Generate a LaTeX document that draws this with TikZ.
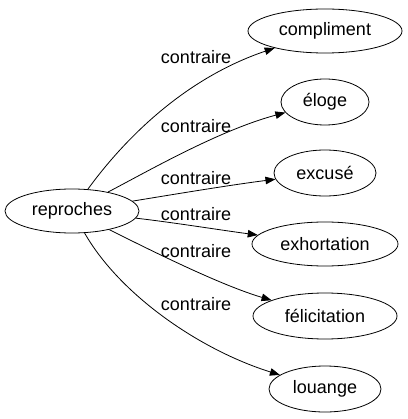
\documentclass[tikz,border=0pt]{standalone}
\usepackage{fontspec}
\setmainfont{Liberation Sans}
\usetikzlibrary{shapes.geometric,arrows.meta}
\begin{document}
\begin{tikzpicture}[x=1pt,y=-1pt,
  word/.style={draw,ellipse,inner sep=0pt,line width=0.8pt,font=\fontsize{18}{20}\selectfont},
  rel/.style={font=\fontsize{18}{20}\selectfont,inner sep=0pt},
  conn/.style={line width=0.8pt,-{Triangle[length=10pt,width=7.5pt]}}]
\useasboundingbox (0,0) rectangle (407,419);
\node[word,minimum width=134pt,minimum height=44pt] (reproches) at (72,211) {reproches};
\node[word,minimum width=154pt,minimum height=44pt] (compliment) at (325,31) {compliment};
\node[word,minimum width=88pt,minimum height=46pt] (eloge) at (325,102) {éloge};
\node[word,minimum width=102pt,minimum height=46pt] (excuse) at (325,173) {excusé};
\node[word,minimum width=146pt,minimum height=44pt] (exhortation) at (325,244) {exhortation};
\node[word,minimum width=144pt,minimum height=46pt] (felicitation) at (325,316) {félicitation};
\node[word,minimum width=112pt,minimum height=46pt] (louange) at (325,389) {louange};
\node[rel] (l1) at (196,57) {contraire};
\node[rel] (l2) at (196,126) {contraire};
\node[rel] (l3) at (196,178) {contraire};
\node[rel] (l4) at (196,214) {contraire};
\node[rel] (l5) at (196,251) {contraire};
\node[rel] (l6) at (196,304) {contraire};
\draw[conn] (reproches) .. controls (120,145) and (180,80) .. (compliment);
\draw[conn] (reproches) .. controls (150,170) and (220,130) .. (eloge);
\draw[conn] (reproches) .. controls (170,195) and (230,185) .. (excuse);
\draw[conn] (reproches) .. controls (170,222) and (220,230) .. (exhortation);
\draw[conn] (reproches) .. controls (150,250) and (220,285) .. (felicitation);
\draw[conn] (reproches) .. controls (120,295) and (200,350) .. (louange);
\end{tikzpicture}
\end{document}
